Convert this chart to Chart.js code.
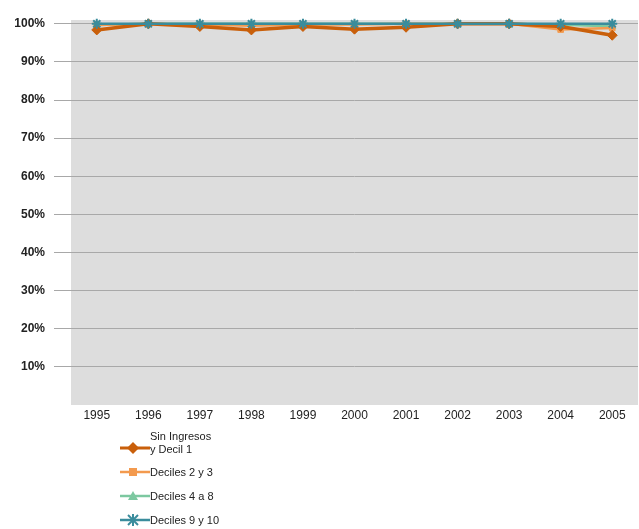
<!DOCTYPE html>
<html><head><meta charset="utf-8">
<script src="https://cdn.jsdelivr.net/npm/chart.js@4/dist/chart.umd.min.js"></script>
<style>
html,body{margin:0;padding:0;background:#fff;}
#wrap{position:relative;width:639px;height:529px;}
#legend{position:absolute;left:120px;top:424px;font-family:"Liberation Sans",Arial,sans-serif;font-size:11px;color:#222;}
.item{display:flex;align-items:center;height:24px;box-sizing:border-box;}
.item svg{flex:none;}
.item span{line-height:13px;}
</style>
</head><body>
<div id="wrap"><canvas id="c" width="639" height="529"></canvas>
<div id="legend"></div></div>
<script>
const years = ["1995","1996","1997","1998","1999","2000","2001","2002","2003","2004","2005"];
const sinIngresosDecil1 = [98.4, 100, 99.3, 98.4, 99.3, 98.6, 99.1, 100, 100, 99.3, 97];
const deciles2y3 = [99.7, 100, 99.8, 99.5, 99.8, 99.8, 100, 100, 100, 98.5, 98.9];
const deciles4a8 = [99.7, 100, 100, 100, 100, 100, 100, 100, 100, 99.8, 99.3];
const deciles9y10 = [100, 100, 100, 100, 100, 100, 100, 100, 100, 100, 100];
const seriesNames = [["Sin Ingresos","y Decil 1"], "Deciles 2 y 3", "Deciles 4 a 8", "Deciles 9 y 10"];
const yTicks = [10,20,30,40,50,60,70,80,90,100];

const colors = ["#C95F0A", "#F39A4E", "#7CC8A0", "#3A8C9C"];
const styles = ["rectRot", "rect", "triangle", "star"];
const radii = [5, 4, 4, 5];

const bgPlugin = {
  id: 'bg',
  beforeDraw(chart){
    const {ctx, chartArea:a} = chart;
    ctx.save(); ctx.fillStyle = '#DDDDDD';
    ctx.fillRect(a.left, a.top, a.right - a.left, a.bottom - a.top);
    ctx.restore();
  }
};

const allData = [sinIngresosDecil1, deciles2y3, deciles4a8, deciles9y10];
const datasets = allData.map((d, i) => ({
  label: Array.isArray(seriesNames[i]) ? seriesNames[i].join(' ') : seriesNames[i],
  data: d,
  borderColor: colors[i],
  backgroundColor: colors[i],
  borderWidth: i === 0 ? 3.5 : 2.5,
  pointStyle: styles[i],
  pointRadius: radii[i],
  pointBorderWidth: i === 3 ? 2 : 1,
  pointBorderColor: colors[i],
  pointBackgroundColor: colors[i],
  tension: 0,
  clip: false,
  order: i === 3 ? 0 : i + 1
}));

new Chart(document.getElementById('c'), {
  type: 'line',
  data: { labels: years, datasets },
  plugins: [bgPlugin],
  options: {
    responsive: false,
    animation: false,
    layout: { autoPadding: false, padding: { top: 20, right: 1, left: 0, bottom: 0 } },
    plugins: { legend: { display: false }, tooltip: { enabled: false } },
    scales: {
      x: {
        offset: true,
        grid: { display: false, drawTicks: false },
        border: { display: false },
        ticks: { color: '#222', font: { family: 'Liberation Sans', size: 12 }, padding: 3, maxRotation: 0 },
        afterFit(s){ s.height = 124; s.paddingRight = 0; s.paddingLeft = 0; }
      },
      y: {
        min: 0, max: 101,
        afterBuildTicks(s){ s.ticks = yTicks.map(v => ({value: v})); },
        grid: { color: '#A8A8A8', lineWidth: 1, tickLength: 17, drawOnChartArea: true },
        border: { display: false },
        ticks: { color: '#222', font: { family: 'Liberation Sans', size: 12, weight: 'bold' }, padding: 9, callback: v => v + '%' },
        afterFit(s){ s.width = 71; }
      }
    }
  }
});

// HTML legend
const lg = document.getElementById('legend');
function markerSvg(i){
  const c = colors[i];
  let m = '';
  const cx = 13, cy = 8;
  if (styles[i] === 'rectRot') m = `<polygon points="${cx},${cy-6} ${cx+6},${cy} ${cx},${cy+6} ${cx-6},${cy}" fill="${c}"/>`;
  else if (styles[i] === 'rect') m = `<rect x="${cx-4}" y="${cy-4}" width="8" height="8" fill="${c}"/>`;
  else if (styles[i] === 'triangle') m = `<polygon points="${cx},${cy-5} ${cx+5},${cy+4} ${cx-5},${cy+4}" fill="${c}"/>`;
  else m = `<g stroke="${c}" stroke-width="2"><line x1="${cx-5}" y1="${cy-5}" x2="${cx+5}" y2="${cy+5}"/><line x1="${cx-5}" y1="${cy+5}" x2="${cx+5}" y2="${cy-5}"/><line x1="${cx}" y1="${cy-6}" x2="${cx}" y2="${cy+6}"/></g>`;
  return `<svg width="30" height="16"><line x1="0" y1="8" x2="30" y2="8" stroke="${c}" stroke-width="${i===0?3:2.5}"/>${m}</svg>`;
}
seriesNames.forEach((n, i) => {
  const div = document.createElement('div');
  div.className = 'item';
  const txt = Array.isArray(n) ? n.join('<br>') : n;
  if (i === 0) { div.style.height = '36px'; div.style.alignItems = 'flex-end'; div.style.paddingBottom = '4px'; }
  div.innerHTML = markerSvg(i) + `<span>${txt}</span>`;
  lg.appendChild(div);
});
</script>
</body></html>
